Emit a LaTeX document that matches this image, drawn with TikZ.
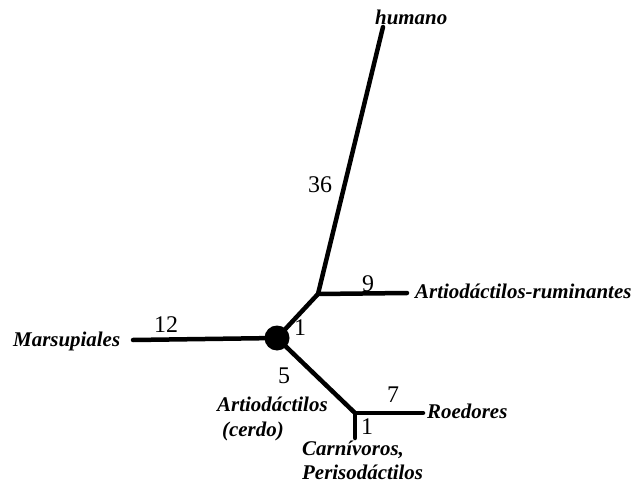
\documentclass[tikz,border=0pt]{standalone}
\usepackage{fontspec}
\setmainfont{Liberation Serif}
\begin{document}
\begin{tikzpicture}[x=1bp,y=-1bp,
  branch/.style={line width=4.5bp,line cap=round},
  taxon/.style={font=\fontsize{21}{23}\selectfont\bfseries\itshape,inner sep=0pt,anchor=base west},
  num/.style={font=\fontsize{24}{26}\selectfont,inner sep=0pt}]
\useasboundingbox (0,0) rectangle (634,485);
% nodes of the tree
\node[circle,fill=black,minimum size=25bp,inner sep=0pt] (root) at (277,338) {};
\coordinate (j1) at (318,294);
\coordinate (j2) at (355,413);
\coordinate (hum) at (383,27);
\coordinate (rum) at (407,293);
\coordinate (mar) at (133,340);
\coordinate (roe) at (423,413);
\coordinate (car) at (355,438);
% branches
\draw[branch] (mar) -- (root.center);
\draw[branch] (root.center) -- (j1);
\draw[branch] (j1) -- (hum);
\draw[branch] (j1) -- (rum);
\draw[branch] (root.center) -- (j2);
\draw[branch] (j2) -- (roe);
\draw[branch] (j2) -- (car);
% taxa
\node[taxon] (thum) at (375,25) {humano};
\node[taxon] (trum) at (415,298) {Artiodáctilos-ruminantes};
\node[taxon] (tmar) at (13,346) {Marsupiales};
\node[taxon] (troe) at (427,418) {Roedores};
\node[taxon] (tart) at (217,411) {Artiodáctilos};
\node[taxon] (tcer) at (222,436) {(cerdo)};
\node[taxon] (tcar) at (302,455) {Carnívoros,};
\node[taxon] (tper) at (302,479) {Perisodáctilos};
% branch lengths
\node[num] (n36) at (320,185) {36};
\node[num] (n9) at (368,284) {9};
\node[num] (n12) at (166,325) {12};
\node[num] (n1a) at (300,328) {1};
\node[num] (n5) at (284,376) {5};
\node[num] (n7) at (393,395) {7};
\node[num] (n1b) at (367,427) {1};
\end{tikzpicture}
\end{document}
